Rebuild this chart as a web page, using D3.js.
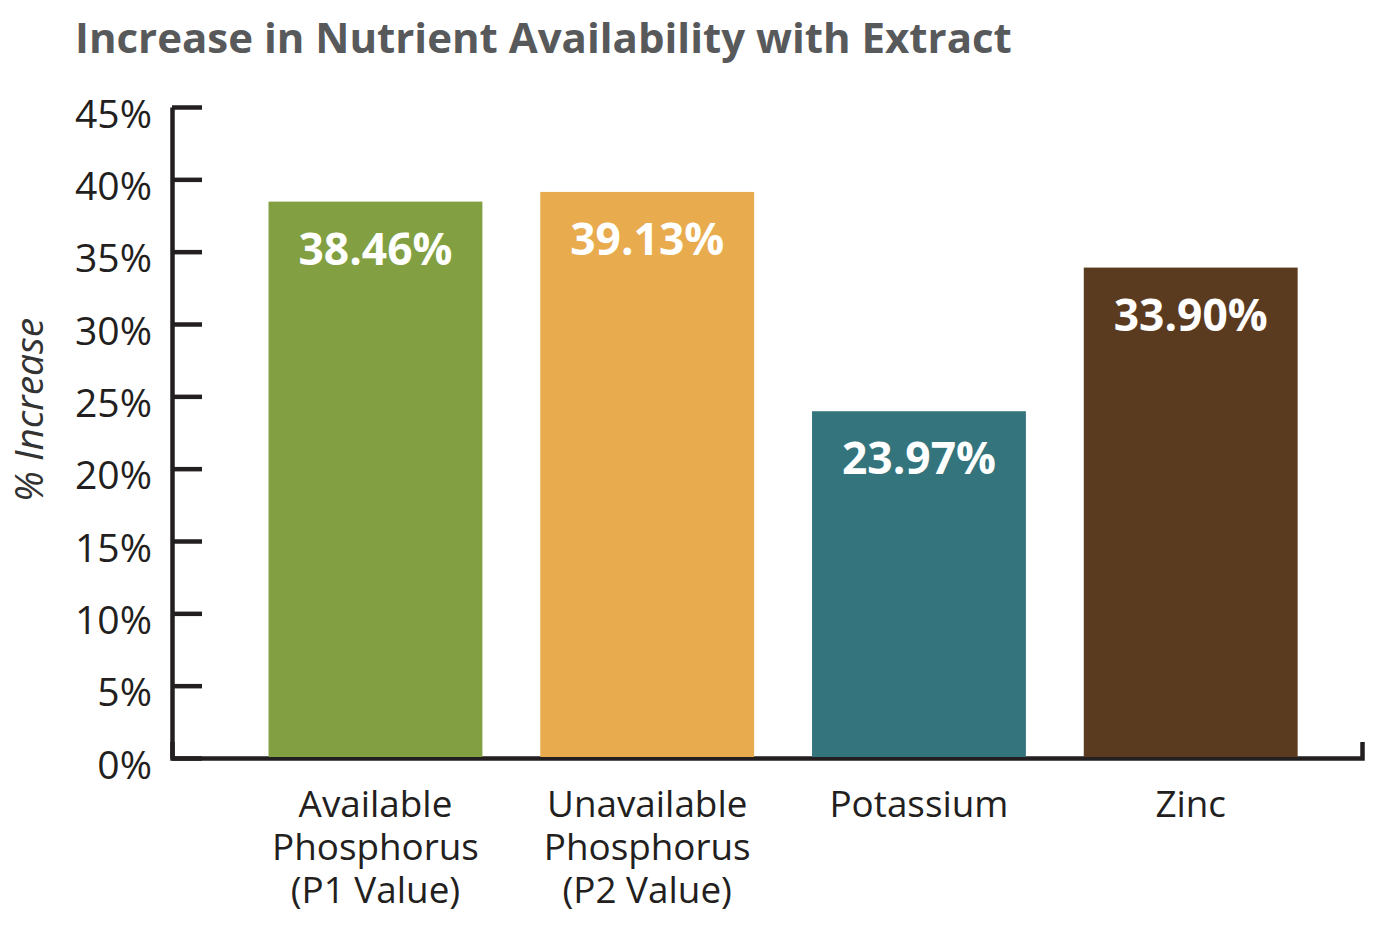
<!DOCTYPE html>
<html>
<head>
<meta charset="utf-8">
<script src="https://cdn.jsdelivr.net/npm/d3@7"></script>
<style>
  html, body { margin: 0; padding: 0; background: #fff; }
  svg { display: block; }
</style>
</head>
<body>
<svg id="chart" width="1398" height="942"></svg>
<script>
// ---- data ----
const title = "Increase in Nutrient Availability with Extract";
const categories = ["Available Phosphorus (P1 Value)", "Unavailable Phosphorus (P2 Value)", "Potassium", "Zinc"];
const categoryLines = [["Available", "Phosphorus", "(P1 Value)"], ["Unavailable", "Phosphorus", "(P2 Value)"], ["Potassium"], ["Zinc"]];
const values = [38.46, 39.13, 23.97, 33.90];
const valueLabels = ["38.46%", "39.13%", "23.97%", "33.90%"];
const barColors = ["#82A042", "#E8AB4E", "#34747C", "#5B3B1F"];
const yTicks = [0, 5, 10, 15, 20, 25, 30, 35, 40, 45];
const yLabel = "% Increase";

// ---- layout ----
const svg = d3.select("#chart");
const FONT = "'Open Sans', 'Liberation Sans', sans-serif";
const ink = "#231F20";
const axisX = 172, axisY0 = 758, axisYTop = 107, axisXEnd = 1362;

const y = d3.scaleLinear().domain([0, 45]).range([axisY0, axisYTop]);
const x = d3.scaleBand().domain(categories).range([axisX, axisXEnd])
  .paddingInner(0.213).paddingOuter(0.296).align(0.6);

// helper: fit font size so that a text element has the target width
function fitSize(sample, weight, style, targetW, base = 40) {
  const t = svg.append("text").attr("font-family", FONT).attr("font-weight", weight)
    .attr("font-style", style).attr("font-size", base).text(sample);
  const w = t.node().getComputedTextLength();
  t.remove();
  return base * targetW / w;
}

// title
const titleSize = fitSize(title, 700, "normal", 937);
svg.append("text").attr("x", 75).attr("y", 53)
  .attr("font-family", FONT).attr("font-weight", 700).attr("font-size", titleSize)
  .attr("fill", "#58595B").text(title);

// y axis
const tickSize = fitSize("45%", 400, "normal", 77);
const yAxis = d3.axisLeft(y).tickValues(yTicks).tickFormat(d => d + "%")
  .tickSizeInner(-30).tickSizeOuter(0).tickPadding(20);
const gy = svg.append("g").attr("transform", `translate(${axisX},0)`).call(yAxis);
gy.select(".domain").attr("stroke", ink).attr("stroke-width", 4.5);
gy.selectAll(".tick line").attr("stroke", ink).attr("stroke-width", 4.5);
gy.selectAll(".tick text").attr("fill", ink).attr("font-family", FONT)
  .attr("font-size", tickSize).attr("dy", 20);

// x axis baseline
const xAxis = d3.axisBottom(x).tickSize(0).tickSizeOuter(-16).tickFormat("");
const gx = svg.append("g").attr("transform", `translate(0,${axisY0})`).call(xAxis);
gx.select(".domain").attr("stroke", ink).attr("stroke-width", 4.5).attr("fill", "none");
gx.selectAll(".tick").remove();

// y label
const yLabelSize = fitSize(yLabel, 400, "italic", 184);
svg.append("text").attr("transform", `translate(43,410) rotate(-90)`)
  .attr("text-anchor", "middle").attr("font-family", FONT).attr("font-style", "italic")
  .attr("font-size", yLabelSize).attr("fill", "#333").text(yLabel);

// bars
svg.append("g").selectAll("rect").data(values).join("rect")
  .attr("x", (d, i) => x(categories[i]))
  .attr("width", x.bandwidth())
  .attr("y", d => y(d))
  .attr("height", d => y(0) - y(d) - 1)
  .attr("fill", (d, i) => barColors[i]);

// value labels
const valSize = fitSize("38.46%", 700, "normal", 154);
svg.append("g").selectAll("text").data(values).join("text")
  .attr("x", (d, i) => x(categories[i]) + x.bandwidth() / 2)
  .attr("y", d => y(d) + 63)
  .attr("text-anchor", "middle").attr("font-family", FONT).attr("font-weight", 700)
  .attr("font-size", valSize).attr("fill", "#fff")
  .text((d, i) => valueLabels[i]);

// category labels
const catSize = fitSize("Potassium", 400, "normal", 179);
const cl = svg.append("g").selectAll("text").data(categories).join("text")
  .attr("text-anchor", "middle").attr("font-family", FONT)
  .attr("font-size", catSize).attr("fill", ink);
cl.each(function (d, i) {
  const cx = x(d) + x.bandwidth() / 2;
  d3.select(this).selectAll("tspan").data(categoryLines[i]).join("tspan")
    .attr("x", cx).attr("y", (s, j) => 817 + j * 43).text(s => s);
});
</script>
</body>
</html>
